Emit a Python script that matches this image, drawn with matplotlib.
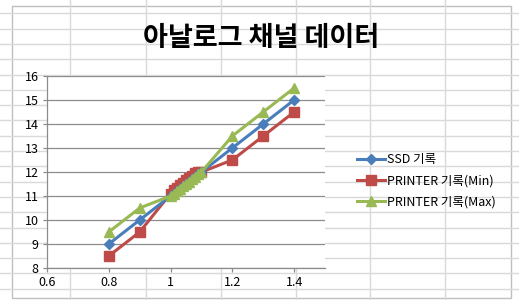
import matplotlib
matplotlib.use('Agg')

import matplotlib.pyplot as plt
from matplotlib.lines import Line2D
from matplotlib.patches import Rectangle

plt.rcParams['font.family'] = ['Noto Sans CJK KR', 'DejaVu Sans']

x_vals = [0.8, 0.9, 1.0, 1.01, 1.02, 1.03, 1.04, 1.05, 1.06, 1.07, 1.08, 1.09, 1.1, 1.2, 1.3, 1.4]
ssd = [9, 10, 11, 11.1, 11.2, 11.3, 11.4, 11.5, 11.6, 11.7, 11.8, 11.9, 12, 13, 14, 15]
printer_min = [8.5, 9.5, 11.1, 11.25, 11.35, 11.45, 11.55, 11.65, 11.75, 11.85, 11.95, 12, 12, 12.5, 13.5, 14.5]
printer_max = [9.5, 10.5, 11, 11.1, 11.2, 11.3, 11.4, 11.5, 11.6, 11.7, 11.8, 11.9, 12, 13.5, 14.5, 15.5]
labels = ['SSD 기록', 'PRINTER 기록(Min)', 'PRINTER 기록(Max)']

W, H = 519, 300
fig = plt.figure(figsize=(W / 100, H / 100), dpi=100)

# spreadsheet cells behind the chart
for cx in [70, 146, 221, 296, 370, 445]:
    fig.add_artist(Line2D([cx / W, cx / W], [0, 1], color='#d9d9d9', lw=1))
ry = 13.3
while ry < H:
    fig.add_artist(Line2D([0, 1], [1 - ry / H, 1 - ry / H], color='#d9d9d9', lw=1))
    ry += 15.3

# chart area
fig.add_artist(Rectangle((12 / W, 1 - 298 / H), 499 / W, 292 / H, facecolor='white',
                         edgecolor='#bfbfbf', lw=1, zorder=1))

ax = fig.add_axes([47 / W, 1 - 268 / H, 278 / W, 192 / H], zorder=2)
ax.plot(x_vals, ssd, color='#4a7ebb', lw=2.2, marker='D', markersize=5, label=labels[0], zorder=4)
ax.plot(x_vals, printer_min, color='#be4b48', lw=2.2, marker='s', markersize=7, label=labels[1], zorder=3)
ax.plot(x_vals, printer_max, color='#98b954', lw=2.2, marker='^', markersize=7.5, label=labels[2], zorder=5)

ax.set_xlim(0.6, 1.5)
ax.set_ylim(8, 16)
ax.set_xticks([0.6, 0.8, 1.0, 1.2, 1.4])
ax.set_xticklabels(['0.6', '0.8', '1', '1.2', '1.4'])
ax.set_yticks(range(8, 17))
ax.grid(axis='y', color='#8c8c8c', lw=0.9)
ax.set_axisbelow(True)
for s in ['top', 'right']:
    ax.spines[s].set_visible(False)
for s in ['left', 'bottom']:
    ax.spines[s].set_color('#8c8c8c')
    ax.spines[s].set_linewidth(0.9)
ax.tick_params(colors='#8c8c8c', labelcolor='black', labelsize=9, length=3, width=0.9, pad=3)

fig.legend(loc='center left', bbox_to_anchor=(346 / W, 1 - 181 / H), frameon=False,
           fontsize=9, handlelength=2.2, handletextpad=0.15, labelspacing=0.65)

fig.text(261 / W, 1 - 38 / H, '아날로그 채널 데이터', ha='center', va='center',
         fontsize=19.5, fontweight='bold')

plt.savefig('out.png', dpi=100)
